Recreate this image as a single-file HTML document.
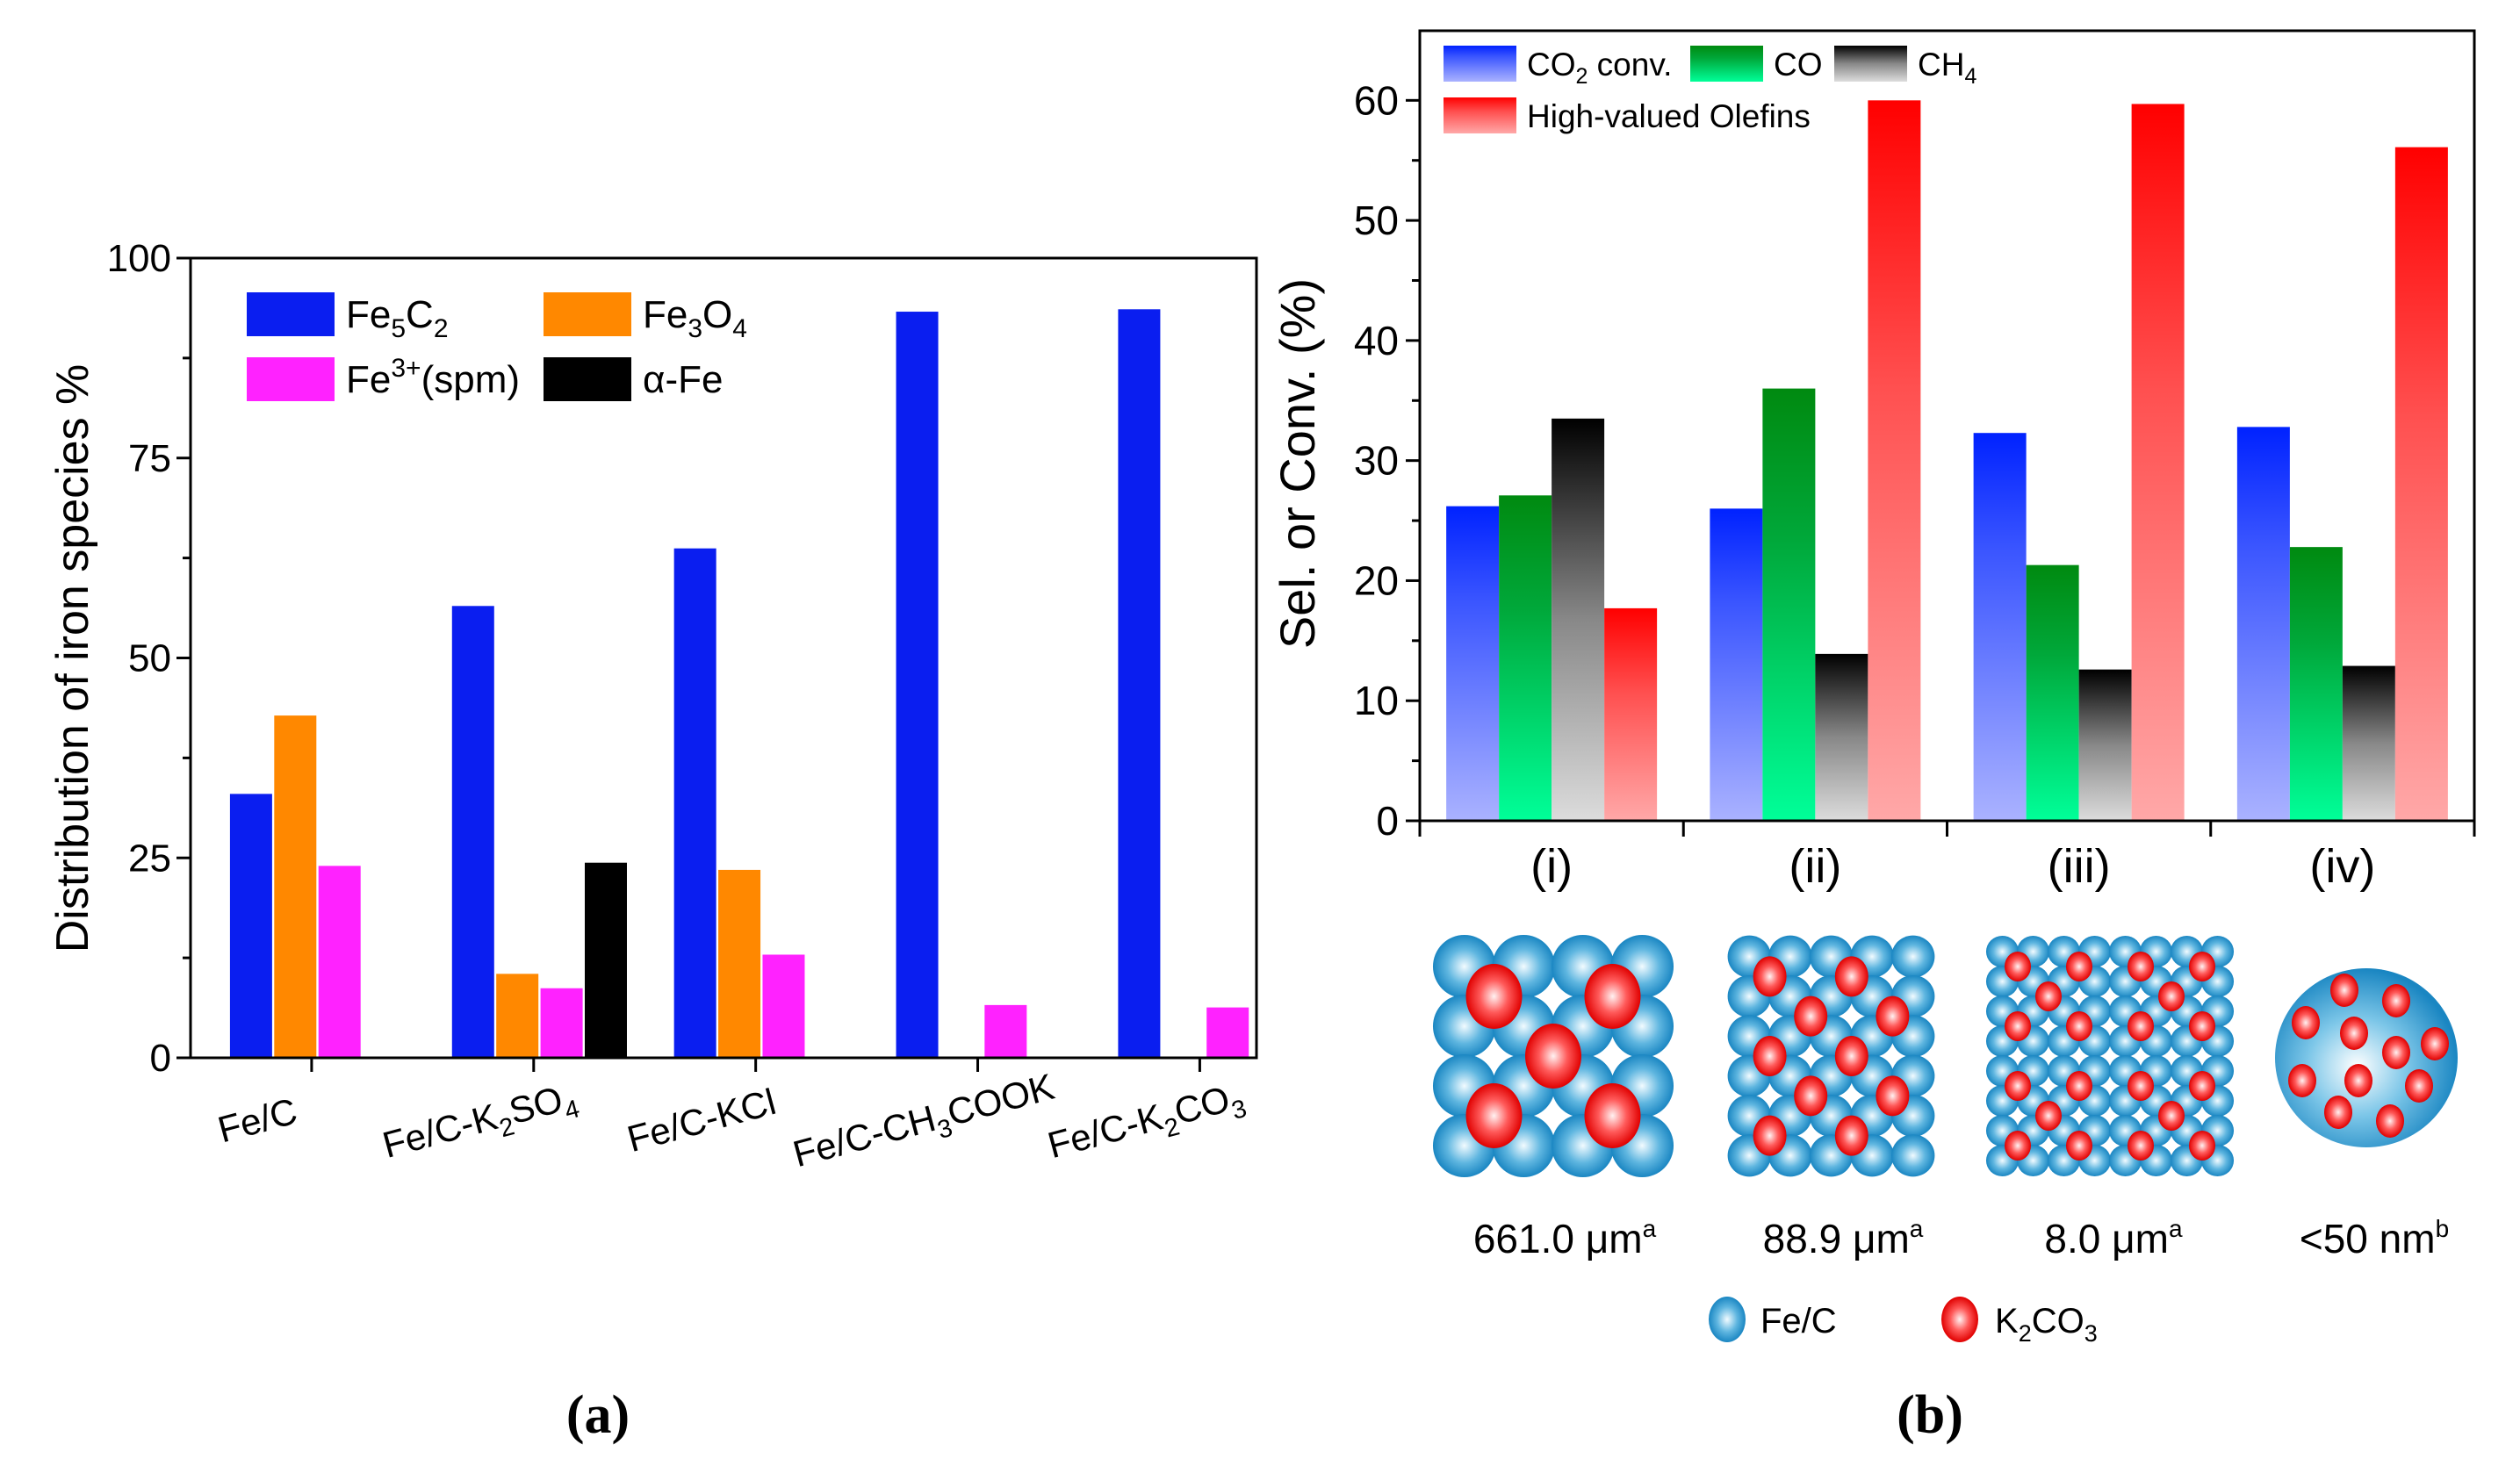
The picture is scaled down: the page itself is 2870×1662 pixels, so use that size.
<!DOCTYPE html>
<html><head><meta charset="utf-8"><style>
html,body{margin:0;padding:0;background:#fff}
svg{display:block;font-family:"Liberation Sans",sans-serif}
.nar{font-family:"Liberation Sans Narrow","Liberation Sans",sans-serif}
</style></head><body>
<svg id="fig" width="2870" height="1662" viewBox="0 0 2870 1662" xmlns="http://www.w3.org/2000/svg">
<defs>
<linearGradient id="gBlue" x1="0" y1="0" x2="0" y2="1"><stop offset="0" stop-color="#0022ff"/><stop offset="0.3" stop-color="#3a55ff"/><stop offset="1" stop-color="#aab2ff"/></linearGradient>
<linearGradient id="gGreen" x1="0" y1="0" x2="0" y2="1"><stop offset="0" stop-color="#008a10"/><stop offset="0.35" stop-color="#00a83a"/><stop offset="1" stop-color="#00ff99"/></linearGradient>
<linearGradient id="gBlack" x1="0" y1="0" x2="0" y2="1"><stop offset="0" stop-color="#000"/><stop offset="0.5" stop-color="#888"/><stop offset="1" stop-color="#dcdcdc"/></linearGradient>
<linearGradient id="gRed" x1="0" y1="0" x2="0" y2="1"><stop offset="0" stop-color="#ff0000"/><stop offset="0.4" stop-color="#ff5050"/><stop offset="1" stop-color="#ffa8a8"/></linearGradient>
<radialGradient id="rBlue" cx="0.5" cy="0.5" r="0.5"><stop offset="0" stop-color="#f2fbff"/><stop offset="0.55" stop-color="#5fb6e0"/><stop offset="1" stop-color="#1a86c2"/></radialGradient>
<radialGradient id="rRed" cx="0.5" cy="0.5" r="0.5"><stop offset="0" stop-color="#fff2f2"/><stop offset="0.5" stop-color="#ff5a5a"/><stop offset="1" stop-color="#e00000"/></radialGradient>
<radialGradient id="rBig" cx="0.45" cy="0.55" r="0.55"><stop offset="0" stop-color="#ffffff"/><stop offset="0.5" stop-color="#7cc6e8"/><stop offset="1" stop-color="#1a86c2"/></radialGradient>
</defs>
<g id="chartA"></g>
<g id="chartB"></g>
<g id="illus"></g>
<text x="681" y="1632" font-family="Liberation Serif,serif" font-weight="bold" font-size="62" text-anchor="middle">(a)</text>
<text x="2198" y="1632" font-family="Liberation Serif,serif" font-weight="bold" font-size="62" text-anchor="middle">(b)</text>
</svg>
<script>
// ---------- Chart A data ----------
const catsA = ["Fe/C","Fe/C-K2SO4","Fe/C-KCl","Fe/C-CH3COOK","Fe/C-K2CO3"];
const fe5c2 = [33.0, 56.5, 63.7, 93.3, 93.6];
const fe3o4 = [42.8, 10.5, 23.5, 0, 0];
const fe3spm = [24.0, 8.7, 12.9, 6.6, 6.3];
const alphaFe = [0, 24.4, 0, 0, 0];
const ticksA = [0, 25, 50, 75, 100];
// ---------- Chart B data ----------
const catsB = ["(i)","(ii)","(iii)","(iv)"];
const co2conv = [26.2, 26.0, 32.3, 32.8];
const coSel = [27.1, 36.0, 21.3, 22.8];
const ch4Sel = [33.5, 13.9, 12.6, 12.9];
const olefins = [17.7, 60.0, 59.7, 56.1];
const ticksB = [0, 10, 20, 30, 40, 50, 60];

const NS = "http://www.w3.org/2000/svg";
function mk(tag, attrs, parent, txt){const e=document.createElementNS(NS,tag);for(const k in attrs)e.setAttribute(k,attrs[k]);if(txt!==undefined)e.textContent=txt;parent.appendChild(e);return e;}
// parts: [text] normal, [text,1] subscript, [text,-1] superscript
function rich(t,parts,small,fs){
 const sub=Math.round(fs*0.25), sup=Math.round(fs*0.4);
 let cur=0;
 parts.forEach(p=>{
  let target=0, a={};
  if(p[1]===1){target=sub;a['font-size']=small;}
  else if(p[1]===-1){target=-sup;a['font-size']=small;}
  const d=target-cur; if(d!==0)a.dy=d; cur=target;
  mk('tspan',a,t,p[0]);});
}

// ---------- Chart A ----------
(function(){
const g=document.getElementById('chartA');
const L=217,R=1431,T=294,B=1205,ymax=100;
const y=v=>B-(v/ymax)*(B-T);
const cx=i=>L+(0.1136+i*0.2083)*(R-L);
const slot=50.4,bw=48;
const series=[[fe5c2,"#0a1ef0","bar-fe5c2"],[fe3o4,"#ff8800","bar-fe3o4"],[fe3spm,"#ff22ff","bar-fe3-spm"],[alphaFe,"#000000","bar-alpha-fe"]];
series.forEach((s,si)=>{s[0].forEach((v,i)=>{if(v<=0)return;
 const r=mk('rect',{x:cx(i)-93+si*slot,y:y(v),width:bw,height:B-y(v),fill:s[1]},g);
 
 });});
mk('rect',{x:L,y:T,width:R-L,height:B-T,fill:'none',stroke:'#000','stroke-width':3},g);
ticksA.forEach(t=>{mk('line',{x1:L-16,x2:L,y1:y(t),y2:y(t),stroke:'#000','stroke-width':3},g);
 const tl=mk('text',{x:L-22,y:y(t)+15,'font-size':44,'text-anchor':'end'},g,String(t));
 
 });
for(let t=12.5;t<100;t+=25)mk('line',{x1:L-9,x2:L,y1:y(t),y2:y(t),stroke:'#000','stroke-width':3},g);
const subs={"Fe/C":[["Fe/C"]],"Fe/C-K2SO4":[["Fe/C-K"],["2",1],["SO"],["4",1]],"Fe/C-KCl":[["Fe/C-KCl"]],"Fe/C-CH3COOK":[["Fe/C-CH"],["3",1],["COOK"]],"Fe/C-K2CO3":[["Fe/C-K"],["2",1],["CO"],["3",1]]};
catsA.forEach((c,i)=>{const x=cx(i);
 mk('line',{x1:x,x2:x,y1:B,y2:B+16,stroke:'#000','stroke-width':3},g);
 const tx=x-58,ty=1290;
 const t=mk('text',{x:tx,y:ty,'font-size':42,'text-anchor':'middle',transform:`rotate(-15 ${tx} ${ty})`},g);
 
 
 rich(t,subs[c],29,42);});
const yt=mk('text',{x:100,y:750,'font-size':52,'text-anchor':'middle',transform:'rotate(-90 100 750)'},g,'Distribution of iron species %');

const lg=mk('g',{},g);
const items=[[281,333,"#0a1ef0",[["Fe"],["5",1],["C"],["2",1]]],[619,333,"#ff8800",[["Fe"],["3",1],["O"],["4",1]]],[281,407,"#ff22ff",[["Fe"],["3+",-1],["(spm)"]]],[619,407,"#000",[["α-Fe"]]]];
items.forEach(it=>{mk('rect',{x:it[0],y:it[1],width:100,height:50,fill:it[2]},lg);
 const t=mk('text',{x:it[0]+113,y:it[1]+40,'font-size':44},lg);
 rich(t,it[3],30,44);});
})();

// ---------- Chart B ----------
(function(){
const g=document.getElementById('chartB');
const L=1617,R=2818,T=35,B=935,ymax=65.8;
const y=v=>B-(v/ymax)*(B-T);
const cw=(R-L)/4, bw=60;
const cx=i=>L+cw*(i+0.5);
const series=[[co2conv,"url(#gBlue)","bar-co2-conv"],[coSel,"url(#gGreen)","bar-co"],[ch4Sel,"url(#gBlack)","bar-ch4"],[olefins,"url(#gRed)","bar-olefins"]];
series.forEach((s,si)=>{s[0].forEach((v,i)=>{
 const r=mk('rect',{x:cx(i)-2*bw+si*bw,y:y(v),width:bw,height:B-y(v),fill:s[1]},g);
 
 });});
mk('rect',{x:L,y:T,width:R-L,height:B-T,fill:'none',stroke:'#000','stroke-width':3},g);
ticksB.forEach(t=>{mk('line',{x1:L-16,x2:L,y1:y(t),y2:y(t),stroke:'#000','stroke-width':3},g);
 const tl=mk('text',{x:L-24,y:y(t)+16,'font-size':46,'text-anchor':'end'},g,String(t));
 
 });
for(let t=5;t<65;t+=10)mk('line',{x1:L-9,x2:L,y1:y(t),y2:y(t),stroke:'#000','stroke-width':3},g);
for(let i=0;i<=4;i++){const x=L+cw*i;mk('line',{x1:x,x2:x,y1:B,y2:B+18,stroke:'#000','stroke-width':3},g);}
catsB.forEach((c,i)=>{const t=mk('text',{x:cx(i),y:1005,'font-size':54,'text-anchor':'middle'},g,c);
 
 });
const yt=mk('text',{x:1497,y:528,'font-size':56,'text-anchor':'middle',transform:'rotate(-90 1497 528)'},g,'Sel. or Conv. (%)');

const lg=mk('g',{},g);
const items=[[1644,52,"url(#gBlue)",[["CO"],["2",1],[" conv."]]],[1925,52,"url(#gGreen)",[["CO"]]],[2089,52,"url(#gBlack)",[["CH"],["4",1]]],[1644,111,"url(#gRed)",[["High-valued Olefins"]]]];
items.forEach(it=>{mk('rect',{x:it[0],y:it[1],width:83,height:41,fill:it[2]},lg);
 const t=mk('text',{x:it[0]+95,y:it[1]+34,'font-size':37,class:'nar'},lg);
 rich(t,it[3],25,37);});
})();

// ---------- Illustration ----------
(function(){
const g=document.getElementById('illus');
function sph(cx,cy,rx,ry,fill,name){const e=mk('ellipse',{cx:cx,cy:cy,rx:rx,ry:ry,fill:fill},g);return e;}
function grid(x0,y0,w,h,cols,rows,reds,rr){
 const cwd=w/cols,ch=h/rows;
 for(let r=0;r<rows;r++)for(let c=0;c<cols;c++)sph(x0+cwd*(c+0.5),y0+ch*(r+0.5),cwd*0.53,ch*0.53,'url(#rBlue)','fe-c-particle');
 reds.forEach(p=>sph(x0+cwd*p[0],y0+ch*p[1],rr[0],rr[1],'url(#rRed)','k2co3-particle'));
}
grid(1634,1067,270,272,4,4,[[1,1],[3,1],[2,2],[1,3],[3,3]],[32,37]);
grid(1969,1067,233,272,5,6,[[1,1],[3,1],[2,2],[4,2],[1,3],[3,3],[2,4],[4,4],[1,5],[3,5]],[19,23]);
const r3=[];[[1,[1,3,5,7]],[2,[2,6]],[3,[1,3,5,7]],[5,[1,3,5,7]],[6,[2,6]],[7,[1,3,5,7]]].forEach(a=>a[1].forEach(c=>r3.push([c,a[0]])));
grid(2263,1067,280,272,8,8,r3,[15,17]);
sph(2695,1205,104,102,'url(#rBig)','nanoparticle-sphere');
[[-25,-77],[34,-65],[-69,-40],[-14,-28],[78,-16],[34,-6],[-73,26],[-9,26],[60,32],[-32,62],[27,72]].forEach(d=>sph(2695+d[0],1205+d[1],16,19,'url(#rRed)','k2co3-particle'));
const labs=[[1782,"661.0 μm","a"],[2099,"88.9 μm","a"],[2407,"8.0 μm","a"],[2704,"<50 nm","b"]];
labs.forEach(l=>{const t=mk('text',{x:l[0],y:1427,'font-size':46,'text-anchor':'middle',class:'nar'},g);
 
 rich(t,[[l[1]],[l[2],-1]],28,46);});
sph(1967,1503,21,26,'url(#rBlue)','legend-fe-c-marker');
sph(2232,1503,21,26,'url(#rRed)','legend-k2co3-marker');
const t1=mk('text',{x:2005,y:1518,'font-size':40,class:'nar'},g,'Fe/C');
const t2=mk('text',{x:2272,y:1518,'font-size':40,class:'nar'},g);
rich(t2,[["K"],["2",1],["CO"],["3",1]],27,40);
})();
</script>
</body></html>
